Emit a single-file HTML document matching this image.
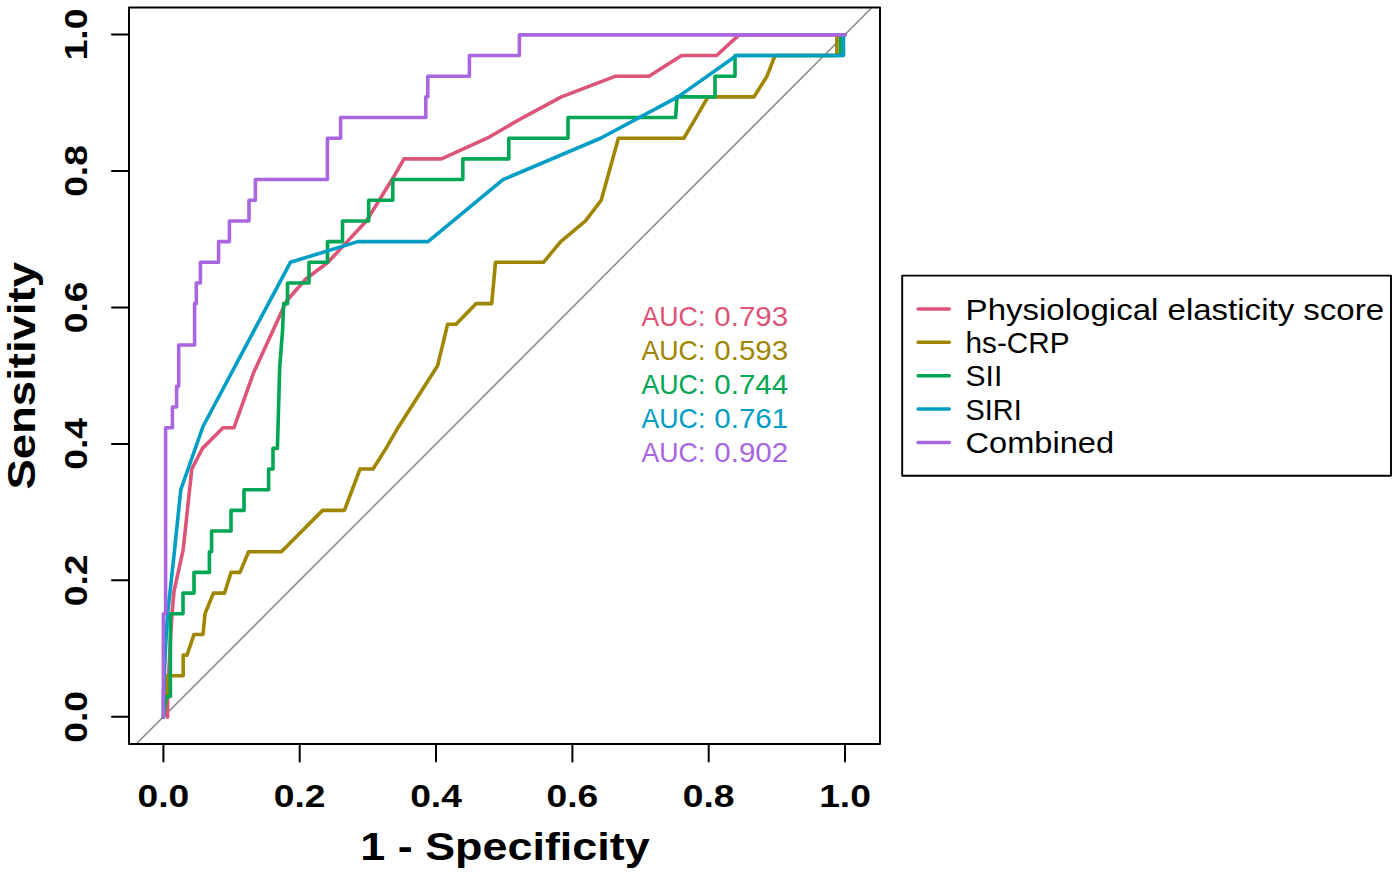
<!DOCTYPE html>
<html><head><meta charset="utf-8"><style>
html,body{margin:0;padding:0;background:#fff;}
svg{display:block;}
text{font-family:"Liberation Sans",sans-serif;}
.tb{font-weight:bold;font-size:31px;}
.auc{font-size:27.5px;}
.leg{font-size:30px;}
.title{font-weight:bold;font-size:38.5px;}
</style></head><body>
<svg width="1400" height="875" viewBox="0 0 1400 875">
<rect width="1400" height="875" fill="#fff"/>
<line x1="136.2" y1="744" x2="871.5" y2="8" stroke="#888" stroke-width="1.5"/>
<polyline points="167.6,717.15 167.6,696.47 170.4,640 172,613.77 174,591.3 183.1,550.2 191.8,469.04 202.5,448.36 223,427.69 234,427.69 253.5,373 286.5,301 305.6,279.2 328,262.28 347.2,241.6 366.4,220.93 379.2,200.25 392,179.57 404,158.9 441.5,158.9 487.1,138.22 522.9,117.55 561.4,96.87 615.7,76.19 649,76.19 681.6,55.52 716.6,55.52 739.1,34.84 845,34.84" fill="none" stroke="#DC5478" stroke-width="3.6" stroke-linejoin="round" stroke-linecap="round"/>
<polyline points="163.4,717.15 166.9,696.47 166.9,675.8 183.2,675.8 183.2,655.12 187,655.12 194,634.45 203,634.45 205,613.77 213.4,593.09 224.6,593.09 231,572.42 240,572.42 248.6,551.74 281.4,551.74 303,530 322.6,510.39 344.4,510.39 360,469.04 373,469.04 386,448.36 398,427.69 437.6,365.66 447.6,324.31 456,324.31 476,303.63 491.7,303.63 495.5,262.28 543.5,262.28 560.7,241.6 585.5,220.93 601.2,200.25 618.4,138.22 683.8,138.22 696,117.55 708,96.87 754,96.87 767,76.19 775,55.52 836.9,55.52 836.9,34.84 845,34.84" fill="none" stroke="#A08500" stroke-width="3.6" stroke-linejoin="round" stroke-linecap="round"/>
<polyline points="163.4,717.15 166.2,696.47 170.4,696.47 170.4,613.77 183,613.77 183,593.09 194,593.09 194,572.42 209.4,572.42 209.4,551.74 211.6,551.74 211.6,531.07 231,531.07 231,510.39 244,510.39 244,489.71 268.6,489.71 268.6,469.04 273,469.04 273,448.36 277.4,448.36 278,427.69 279.7,367 282.6,330 283.6,303.63 287.5,303.63 287.5,282.95 309,282.95 309,262.28 327.5,262.28 327.5,241.6 342.5,241.6 342.5,220.93 368.7,220.93 368.7,200.25 392.8,200.25 392.8,179.57 462.8,179.57 462.8,158.9 508.8,158.9 508.8,138.22 568,138.22 568,117.55 675.6,117.55 677,96.87 715,96.87 715,76.19 735,76.19 735,55.52 840.7,55.52 840.7,34.84 845,34.84" fill="none" stroke="#00A653" stroke-width="3.6" stroke-linejoin="round" stroke-linecap="round"/>
<polyline points="163.4,717.15 163.4,696.47 165.4,650 167.5,615 173.5,560 180.8,489.71 203,426.5 290.4,262.28 357.8,241.6 428,241.6 503,179.57 600.5,138.22 678,96.87 736.6,55.52 843.5,55.52 843.5,34.84 845,34.84" fill="none" stroke="#009EC5" stroke-width="3.6" stroke-linejoin="round" stroke-linecap="round"/>
<polyline points="163.4,717.15 163.4,613.77 165.6,613.77 165.6,427.69 172.4,427.69 172.4,407.01 176.6,407.01 176.6,386.33 178.7,386.33 178.7,344.98 194.6,344.98 194.6,303.63 196.3,303.63 196.3,282.95 200.4,282.95 200.4,262.28 218.6,262.28 218.6,241.6 229.4,241.6 229.4,220.93 249,220.93 249,200.25 255.4,200.25 255.4,179.57 327.4,179.57 327.4,138.22 340.6,138.22 340.6,117.55 425.8,117.55 425.8,96.87 427.8,96.87 427.8,76.19 469.4,76.19 469.4,55.52 519.4,55.52 519.4,34.84 845,34.84" fill="none" stroke="#AA66E0" stroke-width="3.6" stroke-linejoin="round" stroke-linecap="round"/>

<rect x="129" y="7.6" width="751" height="736.4" fill="none" stroke="#000" stroke-width="2" stroke-linejoin="round"/>
<g stroke="#000" stroke-width="2" stroke-linecap="round"><line x1="163.4" y1="744" x2="163.4" y2="761.6" /><line x1="299.7" y1="744" x2="299.7" y2="761.6" /><line x1="436.0" y1="744" x2="436.0" y2="761.6" /><line x1="572.4" y1="744" x2="572.4" y2="761.6" /><line x1="708.7" y1="744" x2="708.7" y2="761.6" /><line x1="845.0" y1="744" x2="845.0" y2="761.6" /><line x1="112" y1="716.8" x2="129" y2="716.8" /><line x1="112" y1="580.3" x2="129" y2="580.3" /><line x1="112" y1="443.9" x2="129" y2="443.9" /><line x1="112" y1="307.4" x2="129" y2="307.4" /><line x1="112" y1="171.0" x2="129" y2="171.0" /><line x1="112" y1="34.5" x2="129" y2="34.5" /></g>
<g fill="#000"><text transform="translate(163.4 807) scale(1.2 1)" text-anchor="middle" class="tb">0.0</text><text transform="translate(299.7 807) scale(1.2 1)" text-anchor="middle" class="tb">0.2</text><text transform="translate(436.0 807) scale(1.2 1)" text-anchor="middle" class="tb">0.4</text><text transform="translate(572.4 807) scale(1.2 1)" text-anchor="middle" class="tb">0.6</text><text transform="translate(708.7 807) scale(1.2 1)" text-anchor="middle" class="tb">0.8</text><text transform="translate(845.0 807) scale(1.2 1)" text-anchor="middle" class="tb">1.0</text><text transform="translate(87.4 716.8) rotate(-90) scale(1.2 1)" text-anchor="middle" class="tb">0.0</text><text transform="translate(87.4 580.3) rotate(-90) scale(1.2 1)" text-anchor="middle" class="tb">0.2</text><text transform="translate(87.4 443.9) rotate(-90) scale(1.2 1)" text-anchor="middle" class="tb">0.4</text><text transform="translate(87.4 307.4) rotate(-90) scale(1.2 1)" text-anchor="middle" class="tb">0.6</text><text transform="translate(87.4 171.0) rotate(-90) scale(1.2 1)" text-anchor="middle" class="tb">0.8</text><text transform="translate(87.4 34.5) rotate(-90) scale(1.2 1)" text-anchor="middle" class="tb">1.0</text></g>
<text transform="translate(505 859.8) scale(1.166 1)" text-anchor="middle" class="title">1 - Specificity</text>
<text transform="translate(34.7 375.8) rotate(-90) scale(1.182 1)" text-anchor="middle" class="title">Sensitivity</text>
<text transform="translate(641.5 326.30) scale(0.972 1)" class="auc" fill="#DC5478">AUC:</text><text transform="translate(714.3 326.30) scale(1.075 1)" class="auc" fill="#DC5478">0.793</text><text transform="translate(641.5 360.30) scale(0.972 1)" class="auc" fill="#A08500">AUC:</text><text transform="translate(714.3 360.30) scale(1.075 1)" class="auc" fill="#A08500">0.593</text><text transform="translate(641.5 394.30) scale(0.972 1)" class="auc" fill="#00A653">AUC:</text><text transform="translate(714.3 394.30) scale(1.075 1)" class="auc" fill="#00A653">0.744</text><text transform="translate(641.5 428.30) scale(0.972 1)" class="auc" fill="#009EC5">AUC:</text><text transform="translate(714.3 428.30) scale(1.075 1)" class="auc" fill="#009EC5">0.761</text><text transform="translate(641.5 462.30) scale(0.972 1)" class="auc" fill="#AA66E0">AUC:</text><text transform="translate(714.3 462.30) scale(1.075 1)" class="auc" fill="#AA66E0">0.902</text>
<rect x="902.2" y="275.6" width="488.8" height="200.2" fill="none" stroke="#000" stroke-width="1.9" stroke-linejoin="round"/>
<line x1="918.1" y1="308.9" x2="949.3" y2="308.9" stroke="#DC5478" stroke-width="3.5" stroke-linecap="round"/><text transform="translate(965.6 319.50) scale(1.101 1)" class="leg">Physiological elasticity score</text><line x1="918.1" y1="342.3" x2="949.3" y2="342.3" stroke="#A08500" stroke-width="3.5" stroke-linecap="round"/><text transform="translate(965.6 352.90) scale(0.99 1)" class="leg">hs-CRP</text><line x1="918.1" y1="375.7" x2="949.3" y2="375.7" stroke="#00A653" stroke-width="3.5" stroke-linecap="round"/><text transform="translate(965.6 386.30) scale(1.0 1)" class="leg">SII</text><line x1="918.1" y1="409.1" x2="949.3" y2="409.1" stroke="#009EC5" stroke-width="3.5" stroke-linecap="round"/><text transform="translate(965.6 419.70) scale(0.962 1)" class="leg">SIRI</text><line x1="918.1" y1="442.5" x2="949.3" y2="442.5" stroke="#AA66E0" stroke-width="3.5" stroke-linecap="round"/><text transform="translate(965.6 453.10) scale(1.086 1)" class="leg">Combined</text>
</svg>
</body></html>
